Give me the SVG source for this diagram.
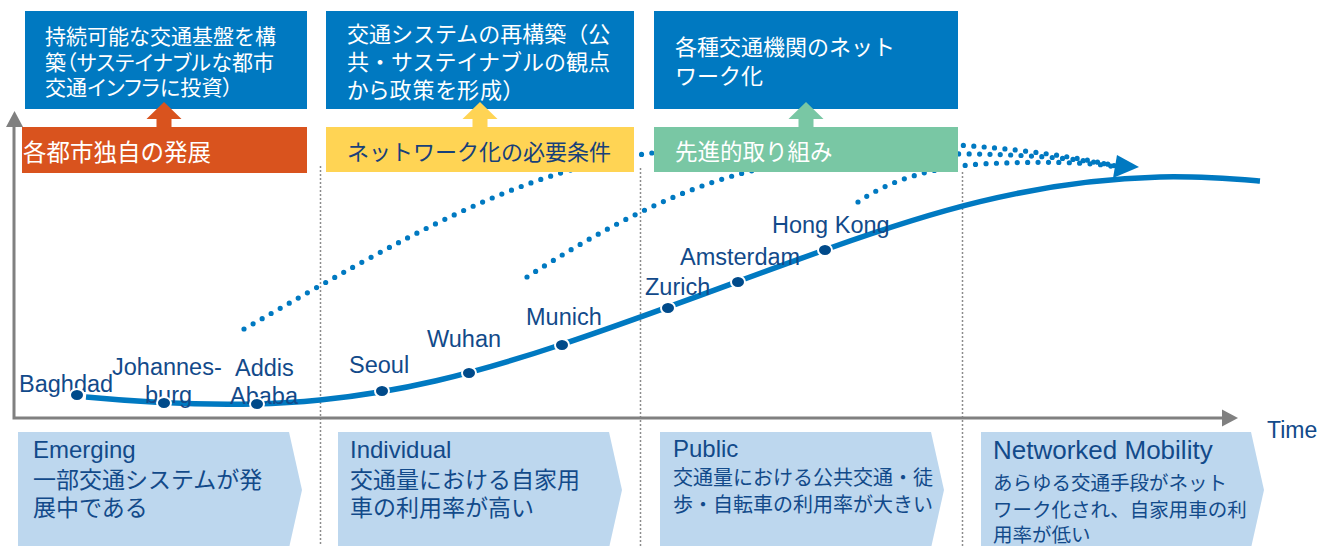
<svg xmlns="http://www.w3.org/2000/svg" width="1319" height="546" viewBox="0 0 1319 546">
<defs>
<style>
text{font-family:"Liberation Sans","Noto Sans CJK JP",sans-serif;}
.box{fill:#0079C1;}
.wt{fill:#fff;font-size:21px;}
.wt2{fill:#fff;font-size:22px;}
.pa{font-feature-settings:"palt";}
.bar{font-size:22px;}
.city{fill:#124A8A;font-size:23.5px;}
.ct{fill:#124A8A;}
.en{font-size:24px;}
.jp{font-size:23px;}
.js{font-size:20px;}
.js2{font-size:19.5px;}
.chev{fill:#BDD7EE;}
.vd{stroke:#8C8C8C;stroke-width:1.5;stroke-dasharray:2 2;fill:none;}
.dl{fill:none;stroke:#0079C1;stroke-width:5.2;stroke-linecap:round;stroke-dasharray:0 10.4;}
.ax{stroke:#808080;stroke-width:3;fill:none;}
.axh{fill:#808080;}
.cd{fill:#004A8A;stroke:#fff;stroke-width:2;}
</style>
</defs>
<rect width="1319" height="546" fill="#fff"/>

<g id="dividers">
<line class="vd" x1="320.5" y1="166" x2="320.5" y2="546"/>
<line class="vd" x1="640.5" y1="168" x2="640.5" y2="546"/>
<line class="vd" x1="962.5" y1="172" x2="962.5" y2="546"/>
</g>

<g id="axes">
<polyline class="ax" points="14,125 14,418 1224,418"/>
<polygon class="axh" points="6,127 14.5,111 23,127"/>
<polygon class="axh" points="1222,409.5 1238,418 1222,426.5"/>
<text class="ct" x="1267" y="438" style="font-size:23px">Time</text>
</g>

<g id="stage-emerging">
<polygon class="chev" points="18,432 289,432 302,490 289,548 18,548"/>
<text class="ct en" x="33" y="458">Emerging</text>
<text class="ct jp" x="33" y="488">一部交通システムが発</text>
<text class="ct jp" x="33" y="516">展中である</text>
</g>
<g id="stage-individual">
<polygon class="chev" points="338,432 609,432 622,490 609,548 338,548"/>
<text class="ct en" x="350" y="458">Individual</text>
<text class="ct jp" x="350" y="488">交通量における自家用</text>
<text class="ct jp" x="350" y="516">車の利用率が高い</text>
</g>
<g id="stage-public">
<polygon class="chev" points="660,432 931,432 944,490 931,548 660,548"/>
<text class="ct en" x="673" y="457">Public</text>
<text class="ct js" x="673" y="485">交通量における公共交通・徒</text>
<text class="ct js" x="673" y="512">歩・自転車の利用率が大きい</text>
</g>
<g id="stage-networked">
<polygon class="chev" points="981,432 1251,432 1264,490 1251,548 981,548"/>
<text class="ct" x="993" y="459" style="font-size:26px">Networked Mobility</text>
<text class="ct js2" x="993" y="490">あらゆる交通手段がネット</text>
<text class="ct js2" x="993" y="517">ワーク化され、自家用車の利</text>
<text class="ct js2" x="993" y="542">用率が低い</text>
</g>

<g id="connectors">
<path class="dl" d="M244,329 C400,240 520,168 660,152 C820,134 1000,140 1116,166"/>
<path class="dl" d="M527,277 C600,230 690,180 780,165 C880,150 1040,150 1116,166"/>
<path class="dl" d="M858,202 C890,180 930,168 980,164 C1040,161 1090,162 1116,167"/>
<polygon fill="#0079C1" points="1117,155 1139,167 1113,178"/>
</g>

<g id="goal-infrastructure">
<rect class="box" x="25" y="11" width="282" height="98"/>
<text class="wt" x="45" y="44">持続可能な交通基盤を構</text>
<text class="wt pa" x="45" y="70" textLength="229" lengthAdjust="spacing">築（サステイナブルな都市</text>
<text class="wt pa" x="45" y="95" textLength="188" lengthAdjust="spacing">交通インフラに投資）</text>
</g>
<g id="goal-restructure">
<rect class="box" x="326" y="11" width="308" height="98"/>
<text class="wt2" x="347" y="42">交通システムの再構築（公</text>
<text class="wt2" x="347" y="70">共・サステイナブルの観点</text>
<text class="wt2 pa" x="347" y="98" textLength="167" lengthAdjust="spacing">から政策を形成）</text>
</g>
<g id="goal-network">
<rect class="box" x="654" y="11" width="304" height="98"/>
<text class="wt2" x="675" y="55">各種交通機関のネット</text>
<text class="wt2" x="675" y="84">ワーク化</text>
</g>

<g id="driver-local">
<rect x="22" y="127" width="285" height="46" fill="#D9531E"/>
<polygon fill="#D9531E" points="156.5,127 156.5,119 146.5,119 164,102 181.5,119 171.5,119 171.5,127"/>
<text class="bar" x="23" y="161" fill="#fff" style="font-size:23.5px">各都市独自の発展</text>
</g>
<g id="driver-requirements">
<rect x="326" y="127" width="308" height="45" fill="#FFD454"/>
<polygon fill="#FFD454" points="472.5,127 472.5,119 462.5,119 480,102 497.5,119 487.5,119 487.5,127"/>
<text class="bar" x="347" y="160" fill="#17407A">ネットワーク化の必要条件</text>
</g>
<g id="driver-advanced">
<rect x="654" y="127" width="304" height="45" fill="#79C7A4"/>
<polygon fill="#79C7A4" points="798.5,127 798.5,119 788.5,119 806,102 823.5,119 813.5,119 813.5,127"/>
<text class="bar" x="675" y="160" fill="#fff" style="font-size:22.5px">先進的取り組み</text>
</g>

<g id="curve">
<path d="M86,397 C160,404 240,408 320,400 C400,392 470,375 560,345 C650,315 740,280 830,248 C920,216 1030,180 1160,177 C1200,176 1235,179 1260,181" fill="none" stroke="#0079C1" stroke-width="5.5"/>
</g>

<g id="cities">
<text class="city" x="19" y="392">Baghdad</text>
<text class="city" x="112" y="375">Johannes-</text>
<text class="city" x="145" y="403">burg</text>
<text class="city" x="235" y="376">Addis</text>
<text class="city" x="230" y="404">Ababa</text>
<text class="city" x="349" y="373">Seoul</text>
<text class="city" x="427" y="347">Wuhan</text>
<text class="city" x="526" y="325">Munich</text>
<text class="city" x="645" y="295">Zurich</text>
<text class="city" x="680" y="265">Amsterdam</text>
<text class="city" x="772" y="233">Hong Kong</text>
</g>
<g id="city-dots">
<ellipse class="cd" cx="77" cy="395" rx="7" ry="6"/>
<ellipse class="cd" cx="164" cy="403" rx="7" ry="6"/>
<ellipse class="cd" cx="257" cy="404" rx="7" ry="6"/>
<ellipse class="cd" cx="382" cy="391" rx="7" ry="6"/>
<ellipse class="cd" cx="469" cy="373" rx="7" ry="6"/>
<ellipse class="cd" cx="562" cy="345" rx="7" ry="6"/>
<ellipse class="cd" cx="668" cy="308" rx="7" ry="6"/>
<ellipse class="cd" cx="738" cy="282" rx="7" ry="6"/>
<ellipse class="cd" cx="825" cy="250" rx="7" ry="6"/>
</g>
</svg>
